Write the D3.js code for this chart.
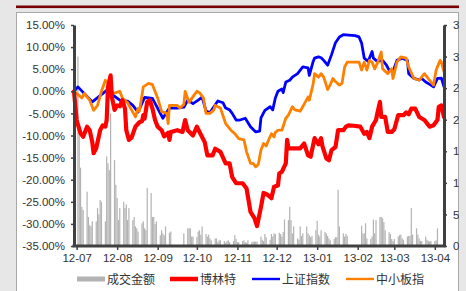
<!DOCTYPE html>
<html>
<head>
<meta charset="utf-8">
<script src="https://cdn.jsdelivr.net/npm/d3@7"></script>
<style>
  body { margin: 0; background: #e7e7e7; }
  svg { display: block; }
  text { font-family: "Liberation Sans", Arial, sans-serif; }
</style>
</head>
<body>
<svg id="chart" width="466" height="291"></svg>
<script>
// ---- data ----
const pctTicks = [15, 10, 5, 0, -5, -10, -15, -20, -25, -30, -35];
const volTicks = [0, 5, 10, 15, 20, 25, 30, 35];
const monthTicks = ["2012-07-01", "2012-08-01", "2012-09-01", "2012-10-01", "2012-11-01",
  "2012-12-01", "2013-01-01", "2013-02-01", "2013-03-01", "2013-04-01"];
const legendLabels = ["成交金额", "博林特", "上证指数", "中小板指"];

// volume per weekday, month by month (0 = no trade)
const volJul = [30, 18, 12.4, 6.2, 5.7, 8.6, 4.6, 3.3, 3.1, 3.9, 3.9, 6.0, 5.0, 7.3, 7.0, 3.9, 14.2, 13.1, 12, 21, 13.6, 9.7];
const volAug = [7.6, 4.1, 6.0, 7.0, 6.0, 6.6, 4.1, 6.0, 4.1, 4.6, 3.1, 2.8, 2.3, 3.6, 3.9, 2.8, 2.5, 9.2, 8.4, 4.6, 4.6, 3.5, 3.9];
const volSep = [1.7, 2.5, 2.0, 1.7, 3.1, 2.1, 2.3, 0, 0, 0, 0, 0, 0, 0, 2.0, 2.8, 2.8, 2.8, 1.5, 1.5];
const volOct = [1.4, 2.3, 2.5, 1.8, 3.1, 1.9, 1.5, 1.8, 1.2, 0.9, 1.2, 1.2, 0.6, 0.9, 0.9, 0.8, 0.5, 0.8, 0.9, 0.6, 0.8, 1.7, 1.1];
const volNov = [0.6, 0.6, 0.8, 0.9, 0.6, 0.5, 0.9, 0.6, 0.7, 0.7, 0.7, 0.7, 1.5, 1.0, 0.8, 1.9, 1.4, 1.0, 1.9, 1.5, 2.0, 1.9];
const volDec = [2.1, 1.9, 1.5, 2.2, 4.2, 4.1, 6.2, 4.1, 2.0, 3.1, 1.2, 1.0, 3.1, 1.6, 2.0, 3.1, 2.0, 1.7, 1.4, 1.6, 2.5];
const volJan = [4.0, 1.8, 1.5, 2.5, 2.2, 2.0, 1.6, 1.2, 0.9, 1.1, 1.4, 1.4, 8.9, 3.1, 2.0, 1.5, 1.9, 1.6, 0, 0, 0, 0, 0];
const volFeb = [0, 3.2, 2.0, 2.0, 3.6, 1.2, 1.1, 1.5, 4.2, 2.0, 4.1, 4.6, 4.6, 4.4, 3.8, 2.5, 2.2, 1.9, 1.1, 0.8];
const volMar = [1.1, 1.5, 1.7, 1.8, 1.2, 1.0, 1.5, 1.6, 1.6, 6.0, 1.8, 2.8, 1.8, 1.2, 0.8, 0.8, 1.5, 1.0, 0.8, 0.7, 0.8];
const volApr = [0.8, 0.9, 2.8, 0, 0, 3.6];
const volMonths = [
  ["2012-07-02", volJul], ["2012-08-01", volAug], ["2012-09-03", volSep], ["2012-10-01", volOct],
  ["2012-11-01", volNov], ["2012-12-03", volDec], ["2013-01-01", volJan], ["2013-02-01", volFeb],
  ["2013-03-01", volMar], ["2013-04-01", volApr]
];

// 博林特 (%)
const bltSeries = [["2012-06-29",0],["2012-07-01",-6.5],["2012-07-04",-9.5],["2012-07-06",-10.3],["2012-07-09",-8.0],["2012-07-11",-8.8],["2012-07-13",-11.5],["2012-07-14",-14.0],["2012-07-16",-12.9],["2012-07-19",-8.8],["2012-07-21",-7.7],["2012-07-23",-8.0],["2012-07-24",-6.5],["2012-07-25",1.0],["2012-07-27",3.6],["2012-07-28",-1.3],["2012-07-30",-4.2],["2012-08-01",-3.2],["2012-08-03",-3.4],["2012-08-05",-2.0],["2012-08-07",-3.9],["2012-08-08",-8.8],["2012-08-10",-11.0],["2012-08-12",-10.5],["2012-08-15",-8.0],["2012-08-18",-7.0],["2012-08-20",-6.8],["2012-08-21",-5.4],["2012-08-22",-6.2],["2012-08-24",-2.4],["2012-08-26",-2.0],["2012-08-28",-3.9],["2012-08-30",-6.5],["2012-09-01",-8.0],["2012-09-04",-8.8],["2012-09-06",-10.2],["2012-09-09",-9.4],["2012-09-10",-11.0],["2012-09-11",-9.2],["2012-09-16",-8.8],["2012-09-20",-9.2],["2012-09-22",-6.5],["2012-09-24",-8.8],["2012-09-28",-10.0],["2012-10-01",-8.0],["2012-10-03",-9.2],["2012-10-07",-11.5],["2012-10-09",-14.5],["2012-10-13",-14.5],["2012-10-15",-13.0],["2012-10-19",-13.7],["2012-10-23",-16.3],["2012-10-26",-16.3],["2012-10-28",-19.4],["2012-10-31",-20.8],["2012-11-05",-20.8],["2012-11-08",-22.0],["2012-11-11",-27.3],["2012-11-14",-28.7],["2012-11-16",-30.5],["2012-11-19",-26.2],["2012-11-21",-23.0],["2012-11-24",-23.4],["2012-11-27",-24.2],["2012-11-29",-21.6],["2012-12-02",-21.3],["2012-12-03",-18.6],["2012-12-05",-18.2],["2012-12-08",-16.3],["2012-12-09",-11.0],["2012-12-10",-12.9],["2012-12-19",-12.9],["2012-12-22",-11.8],["2012-12-25",-14.5],["2012-12-27",-14.8],["2012-12-30",-10.6],["2013-01-02",-12.0],["2013-01-04",-10.6],["2013-01-05",-12.4],["2013-01-08",-15.2],["2013-01-10",-15.6],["2013-01-12",-13.3],["2013-01-15",-12.6],["2013-01-17",-8.8],["2013-01-21",-8.8],["2013-01-23",-8.0],["2013-01-25",-7.7],["2013-01-29",-7.8],["2013-02-03",-8.0],["2013-02-06",-9.6],["2013-02-08",-9.2],["2013-02-10",-10.6],["2013-02-12",-8.0],["2013-02-15",-6.5],["2013-02-16",-5.0],["2013-02-18",-2.4],["2013-02-19",-5.8],["2013-02-22",-5.8],["2013-02-24",-9.2],["2013-02-27",-9.2],["2013-03-01",-8.6],["2013-03-04",-5.4],["2013-03-08",-5.4],["2013-03-10",-4.8],["2013-03-12",-5.2],["2013-03-14",-3.9],["2013-03-17",-3.9],["2013-03-20",-5.8],["2013-03-24",-6.5],["2013-03-28",-8.0],["2013-03-31",-7.7],["2013-04-03",-6.5],["2013-04-04",-3.5],["2013-04-06",-3.2],["2013-04-08",-5.8]];

// 上证指数 (%)
const shSeries = [["2012-06-29",0],["2012-07-02",1.0],["2012-07-13",-2.4],["2012-07-24",0.2],["2012-08-03",-2.0],["2012-08-09",-2.2],["2012-08-13",-3.2],["2012-08-17",-4.7],["2012-08-22",-1.4],["2012-08-28",-1.6],["2012-09-05",-6.1],["2012-09-10",-3.8],["2012-09-16",-3.8],["2012-09-21",-3.6],["2012-09-24",-2.0],["2012-09-28",-2.8],["2012-10-02",-2.0],["2012-10-05",-1.3],["2012-10-08",-4.5],["2012-10-11",-4.8],["2012-10-14",-3.5],["2012-10-17",-2.2],["2012-10-21",-2.6],["2012-10-23",-3.8],["2012-10-26",-4.2],["2012-10-28",-5.0],["2012-10-31",-6.5],["2012-11-03",-6.5],["2012-11-07",-6.1],["2012-11-11",-8.0],["2012-11-15",-9.2],["2012-11-18",-9.0],["2012-11-19",-6.0],["2012-11-22",-4.3],["2012-11-26",-3.5],["2012-11-28",-4.2],["2012-11-30",-1.5],["2012-12-02",0.0],["2012-12-05",0.5],["2012-12-06",-0.3],["2012-12-08",2.1],["2012-12-11",2.5],["2012-12-13",3.2],["2012-12-17",4.0],["2012-12-21",5.5],["2012-12-25",5.3],["2012-12-26",3.6],["2012-12-29",6.8],["2012-12-30",7.5],["2013-01-02",7.8],["2013-01-04",7.6],["2013-01-06",7.0],["2013-01-09",5.9],["2013-01-12",8.3],["2013-01-15",11.0],["2013-01-18",12.3],["2013-01-21",12.8],["2013-01-25",12.7],["2013-01-30",12.6],["2013-02-02",12.3],["2013-02-04",10.9],["2013-02-06",7.5],["2013-02-08",7.0],["2013-02-09",6.8],["2013-02-12",9.0],["2013-02-13",7.5],["2013-02-15",7.0],["2013-02-17",6.8],["2013-02-20",7.0],["2013-02-23",5.9],["2013-02-25",4.8],["2013-02-28",4.5],["2013-03-03",7.0],["2013-03-07",7.5],["2013-03-11",7.0],["2013-03-12",4.0],["2013-03-16",2.9],["2013-03-20",2.6],["2013-03-22",2.9],["2013-03-25",2.1],["2013-03-29",1.4],["2013-03-31",1.0],["2013-04-03",2.9],["2013-04-06",3.0],["2013-04-08",1.0]];

// 中小板指 (%)
const smeSeries = [["2012-06-29",0],["2012-07-05",-1.5],["2012-07-07",-0.5],["2012-07-11",-2.0],["2012-07-14",-4.3],["2012-07-17",-3.2],["2012-07-20",0.0],["2012-07-23",2.5],["2012-07-25",1.8],["2012-07-29",-0.5],["2012-08-03",0.0],["2012-08-05",-1.5],["2012-08-09",-2.6],["2012-08-12",-4.2],["2012-08-15",-5.8],["2012-08-17",-3.9],["2012-08-18",-4.5],["2012-08-21",1.0],["2012-08-25",1.8],["2012-08-28",1.5],["2012-09-01",-1.5],["2012-09-04",-4.6],["2012-09-08",-5.0],["2012-09-09",-7.3],["2012-09-10",-3.2],["2012-09-16",-3.2],["2012-09-18",-3.8],["2012-09-21",-3.0],["2012-09-22",0.0],["2012-09-25",-2.5],["2012-09-29",-0.8],["2012-10-01",0.0],["2012-10-03",-0.3],["2012-10-06",-1.5],["2012-10-08",-5.0],["2012-10-11",-5.0],["2012-10-14",-4.2],["2012-10-15",-3.2],["2012-10-19",-3.8],["2012-10-23",-7.3],["2012-10-27",-8.8],["2012-10-30",-9.6],["2012-11-02",-10.7],["2012-11-06",-11.0],["2012-11-08",-13.7],["2012-11-11",-16.3],["2012-11-13",-16.3],["2012-11-15",-17.1],["2012-11-17",-16.5],["2012-11-19",-13.3],["2012-11-21",-11.8],["2012-11-23",-12.4],["2012-11-25",-10.9],["2012-11-27",-9.6],["2012-11-29",-10.3],["2012-11-30",-9.3],["2012-12-02",-8.8],["2012-12-05",-8.8],["2012-12-08",-6.1],["2012-12-10",-5.4],["2012-12-13",-3.5],["2012-12-15",-4.2],["2012-12-19",-4.5],["2012-12-23",-2.4],["2012-12-25",-1.3],["2012-12-26",-2.0],["2012-12-29",1.8],["2012-12-30",4.0],["2013-01-02",3.2],["2013-01-04",4.0],["2013-01-06",3.2],["2013-01-09",0.4],["2013-01-11",1.5],["2013-01-13",2.9],["2013-01-15",2.2],["2013-01-18",1.4],["2013-01-20",1.8],["2013-01-22",5.5],["2013-01-24",6.6],["2013-01-29",6.6],["2013-02-02",6.6],["2013-02-04",4.8],["2013-02-06",6.6],["2013-02-08",4.8],["2013-02-10",7.0],["2013-02-12",6.6],["2013-02-14",5.1],["2013-02-16",6.3],["2013-02-19",8.9],["2013-02-20",5.1],["2013-02-24",4.0],["2013-02-27",5.1],["2013-02-28",2.9],["2013-03-03",6.6],["2013-03-06",7.8],["2013-03-10",7.5],["2013-03-12",5.5],["2013-03-16",2.9],["2013-03-20",2.5],["2013-03-24",4.0],["2013-03-28",2.5],["2013-03-31",1.4],["2013-04-02",4.8],["2013-04-05",7.0],["2013-04-06",6.6],["2013-04-08",4.4]];

// ---- setup ----
const parse = d3.timeParse("%Y-%m-%d");
const svg = d3.select("#chart");
const axisColor = "#404040";
const textColor = "#333";

// expand the weekday volume lists into dated bars
const volume = [];
volMonths.forEach(([start, vals]) => {
  let day = parse(start);
  vals.forEach(v => {
    while (day.getDay() === 0 || day.getDay() === 6) day = d3.timeDay.offset(day, 1);
    volume.push({ date: day, value: v });
    day = d3.timeDay.offset(day, 1);
  });
});

const x = d3.scaleTime()
  .domain([parse("2012-06-29"), parse("2013-04-08")])
  .range([74, 444]);
const y = d3.scaleLinear().domain([-35, 15]).range([246, 25]);
const yVol = d3.scaleLinear().domain([0, 35]).range([246, 25]);

// background panel
svg.append("rect").attr("width", 466).attr("height", 291).attr("fill", "#e7e7e7");
svg.append("rect").attr("x", 16.5).attr("y", 12.5).attr("width", 442).attr("height", 290)
  .attr("fill", "#fff").attr("stroke", "#a8a8a8");
svg.append("rect").attr("x", 16).attr("y", 5.5).attr("width", 443).attr("height", 2.6)
  .attr("fill", "#7a0000");

// volume bars
svg.append("g").selectAll("rect")
  .data(volume.filter(d => d.value > 0))
  .join("rect")
  .attr("x", d => x(d.date) - 0.6)
  .attr("width", 1.2)
  .attr("y", d => yVol(d.value))
  .attr("height", d => yVol(0) - yVol(d.value))
  .attr("fill", "#b3b3b3");

// lines
const line = d3.line()
  .x(d => x(parse(d[0])))
  .y(d => y(d[1]));

const lineDefs = [
  { data: shSeries, color: "#0000ff", width: 2.8 },
  { data: smeSeries, color: "#ff8000", width: 2.8 },
  { data: bltSeries, color: "#ff0000", width: 4.2 }
];
lineDefs.forEach(s => {
  svg.append("path")
    .datum(s.data)
    .attr("d", line)
    .attr("fill", "none")
    .attr("stroke", s.color)
    .attr("stroke-width", s.width)
    .attr("stroke-linejoin", "round")
    .attr("stroke-linecap", "round");
});

// axes
function styleAxis(g) {
  g.select(".domain").attr("stroke", axisColor).attr("stroke-width", 3);
  g.selectAll(".tick line").attr("stroke", axisColor).attr("stroke-width", 1.5);
  g.selectAll(".tick text").attr("fill", textColor).style("font-size", "11.5px");
}

svg.append("g")
  .attr("transform", "translate(74,0)")
  .call(d3.axisLeft(y).tickValues(pctTicks).tickFormat(d => d.toFixed(2) + "%")
    .tickSizeInner(3).tickSizeOuter(0).tickPadding(6))
  .call(styleAxis);

svg.append("g")
  .attr("transform", "translate(444,0)")
  .call(d3.axisRight(yVol).tickValues(volTicks).tickSizeInner(3).tickSizeOuter(0).tickPadding(6))
  .call(styleAxis);

svg.append("g")
  .attr("transform", "translate(0,246)")
  .call(d3.axisBottom(x).tickValues(monthTicks.map(parse)).tickFormat(d3.timeFormat("%y-%m"))
    .tickSizeInner(4).tickSizeOuter(0).tickPadding(4))
  .call(styleAxis)
  .call(g => g.select(".domain").attr("d", "M72.5,0H445.5"));

// cover what falls past the panel's right edge (clips right axis labels)
svg.append("rect").attr("x", 459).attr("y", 0).attr("width", 7).attr("height", 291).attr("fill", "#e7e7e7");

// legend
const legendX = [77, 170, 252, 346];
const legendKinds = [
  { color: "#b3b3b3", h: 5 },
  { color: "#ff0000", h: 4.5 },
  { color: "#0000ff", h: 2.4 },
  { color: "#ff8000", h: 2.4 }
];
const legend = svg.append("g").attr("transform", "translate(0,279)");
legendLabels.forEach((label, i) => {
  legend.append("rect")
    .attr("x", legendX[i]).attr("y", -legendKinds[i].h / 2)
    .attr("width", 28).attr("height", legendKinds[i].h)
    .attr("fill", legendKinds[i].color);
  legend.append("text")
    .attr("x", legendX[i] + 30).attr("y", 4.5)
    .attr("fill", textColor)
    .style("font-family", "'Noto Sans CJK SC', sans-serif")
    .style("font-size", "12px")
    .text(label);
});
</script>
</body>
</html>
